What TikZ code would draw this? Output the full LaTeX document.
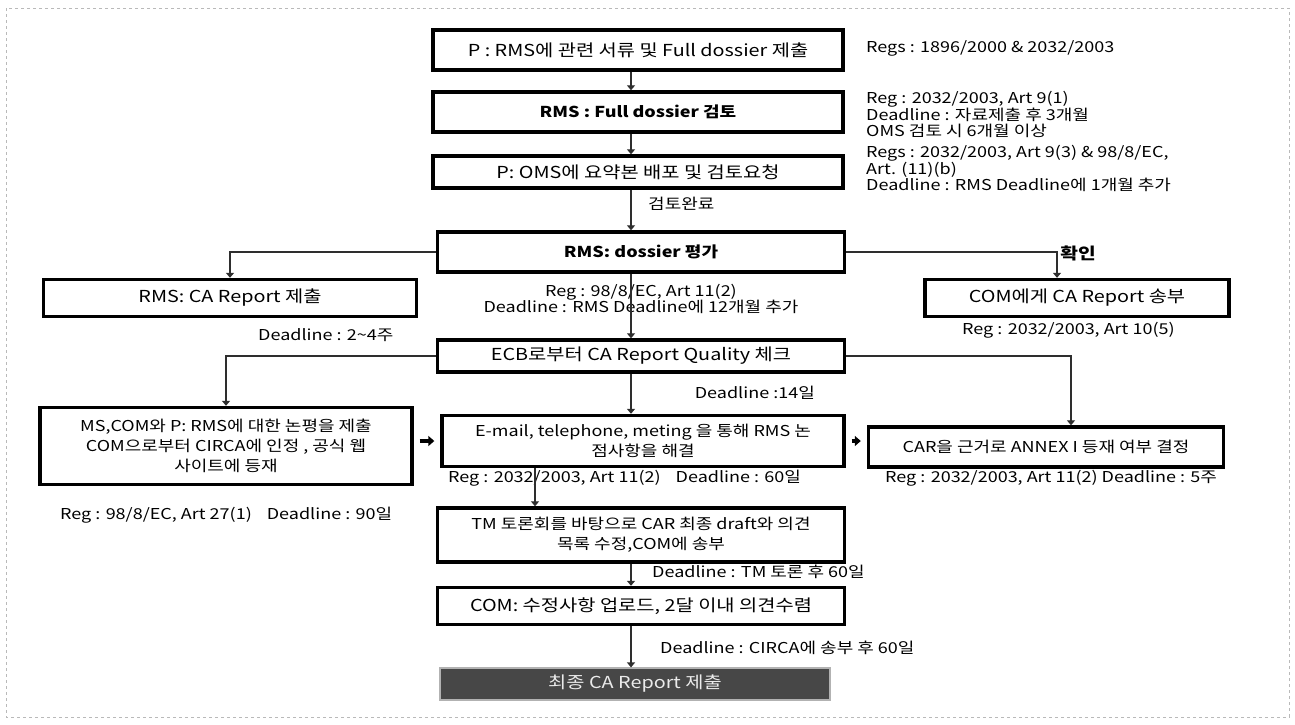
\documentclass[tikz,border=0pt]{standalone}
\usepackage{fontspec}
\setmainfont{Noto Sans CJK KR}[FakeStretch=1.2]
\usetikzlibrary{arrows.meta}

\begin{document}
\begin{tikzpicture}[x=1pt, y=-1pt,
    stepbox/.style={draw=black, line width=3.4pt, fill=white, align=center,
                    font=\fontsize{15}{20}\selectfont, inner sep=2pt},
    bigbox/.style={stepbox, font=\fontsize{16.5}{20}\selectfont},
    boldbox/.style={stepbox, font=\fontsize{15}{20}\selectfont\bfseries},
    finalbox/.style={draw=black!30, line width=1.2pt, fill=black!72, text=black!8,
                     font=\fontsize{16.5}{20}\selectfont, inner sep=2pt},
    conn/.style={draw=black!82, line width=2.6pt, -{Triangle[width=8pt,length=5pt]}},
    blockarr/.style={draw=black, line width=4pt, -{Triangle[width=10pt,length=6pt]},
                     shorten <=6pt, shorten >=6pt},
    note/.style={font=\fontsize{15}{16.7}\selectfont, align=left, inner sep=0pt}
]
\useasboundingbox (0,0) rectangle (1295,724);
\draw[gray!55, dashed, line width=0.6pt] (6,8) rectangle (1289,717);

% 가운데 축
\coordinate (axis) at (631,0);

% 단계 상자
\node[bigbox,  minimum width=410pt, minimum height=40pt] (submit)  at (638,50)  {P : RMS에 관련 서류 및 Full dossier 제출};
\node[boldbox, minimum width=410pt, minimum height=40pt] (review)  at (638,112) {RMS : Full dossier 검토};
\node[bigbox,  minimum width=410pt, minimum height=32pt] (distrib) at (638,172) {P: OMS에 요약본 배포 및 검토요청};
\node[boldbox, minimum width=407pt, minimum height=40pt] (eval)    at (641,252) {RMS: dossier 평가};
\node[bigbox,  minimum width=373pt, minimum height=37pt] (caRep)   at (230,298) {RMS: CA Report 제출};
\node[bigbox,  minimum width=304pt, minimum height=37pt] (comSend) at (1077,298) {COM에게 CA Report 송부};
\node[bigbox,  minimum width=407pt, minimum height=32pt] (ecb)     at (641,356) {ECB로부터  CA Report Quality 체크};
\node[stepbox, minimum width=372pt, minimum height=77pt] (msCom)   at (226,446)
    {MS,COM와 P: RMS에 대한 논평을 제출\\COM으로부터 CIRCA에 인정 , 공식 웹\\사이트에 등재};
\node[stepbox, minimum width=402pt, minimum height=51pt] (email)   at (643,441)
    {E-mail, telephone, meting 을 통해  RMS 논\\점사항을 해결};
\node[stepbox, minimum width=355pt, minimum height=40pt] (car)     at (1046,447) {CAR을 근거로 ANNEX I 등재 여부 결정};
\node[stepbox, minimum width=407pt, minimum height=54pt] (tm)      at (641,535)
    {TM 토론회를 바탕으로  CAR 최종 draft와 의견\\목록 수정,COM에 송부};
\node[bigbox,  minimum width=407pt, minimum height=37pt] (comUp)   at (641,606) {COM: 수정사항 업로드, 2달 이내 의견수렴};
\node[finalbox, minimum width=390pt, minimum height=32pt] (final)  at (635,684) {최종 CA Report 제출};

% 규정 및 기한
\node[note, anchor=west] (regA) at (866,48) {Regs : 1896/2000 \& 2032/2003};
\node[note, anchor=north west] (regB) at (866,91)
    {Reg : 2032/2003, Art 9(1)\\Deadline : 자료제출 후 3개월\\OMS 검토 시 6개월 이상};
\node[note, anchor=north west] (regC) at (866,145)
    {Regs : 2032/2003, Art 9(3) \& 98/8/EC,\\Art. (11)(b)\\Deadline : RMS Deadline에 1개월 추가};
\node[note, anchor=west] (done) at (648,204) {검토완료};
\node[note, align=center] (regD) at (641,299)
    {Reg : 98/8/EC, Art 11(2)\\Deadline : RMS Deadline에 12개월 추가};
\node[note, anchor=west] (dlA) at (258,335) {Deadline : 2\textasciitilde4주};
\node[note, font=\fontsize{16}{18}\selectfont\bfseries] (check) at (1078,253) {확인};
\node[note, anchor=west] (regE) at (962,330) {Reg : 2032/2003, Art 10(5)};
\node[note, anchor=east] (dlB) at (815,393) {Deadline :14일};
\node[note, anchor=west] (regF) at (448,478) {Reg : 2032/2003, Art 11(2)\quad Deadline : 60일};
\node[note, anchor=west] (regG) at (885,478) {Reg : 2032/2003, Art 11(2) Deadline : 5주};
\node[note, anchor=west] (regH) at (60,515) {Reg : 98/8/EC, Art 27(1)\quad Deadline : 90일};
\node[note, anchor=west] (dlC) at (652,572) {Deadline : TM 토론 후 60일};
\node[note, anchor=west] (dlD) at (660,648) {Deadline : CIRCA에 송부 후 60일};

% 연결선
\draw[conn] (submit.south -| axis) -- (review.north -| axis);
\draw[conn] (review.south -| axis) -- (distrib.north -| axis);
\draw[conn] (distrib.south -| axis) -- (eval.north -| axis);
\draw[conn] (eval.south -| axis) -- (ecb.north -| axis);
\draw[conn] (eval.west) -| (caRep.north);
\draw[conn] (eval.east) -| ([xshift=-20pt]comSend.north);
\draw[conn] (ecb.west) -| (msCom.north);
\draw[conn] (ecb.east) -| ([xshift=25pt]car.north);
\draw[conn] (ecb.south -| axis) -- (email.north -| axis);
\draw[conn] ([xshift=-108pt]email.south) -- ([xshift=-108pt]email.south |- tm.north);
\draw[conn] (tm.south -| axis) -- (comUp.north -| axis);
\draw[conn] (comUp.south -| axis) -- (final.north -| axis);
\draw[blockarr] (msCom.east |- email.west) -- (email.west);
\draw[blockarr] (email.east) -- (car.west |- email.east);

\end{tikzpicture}
\end{document}
